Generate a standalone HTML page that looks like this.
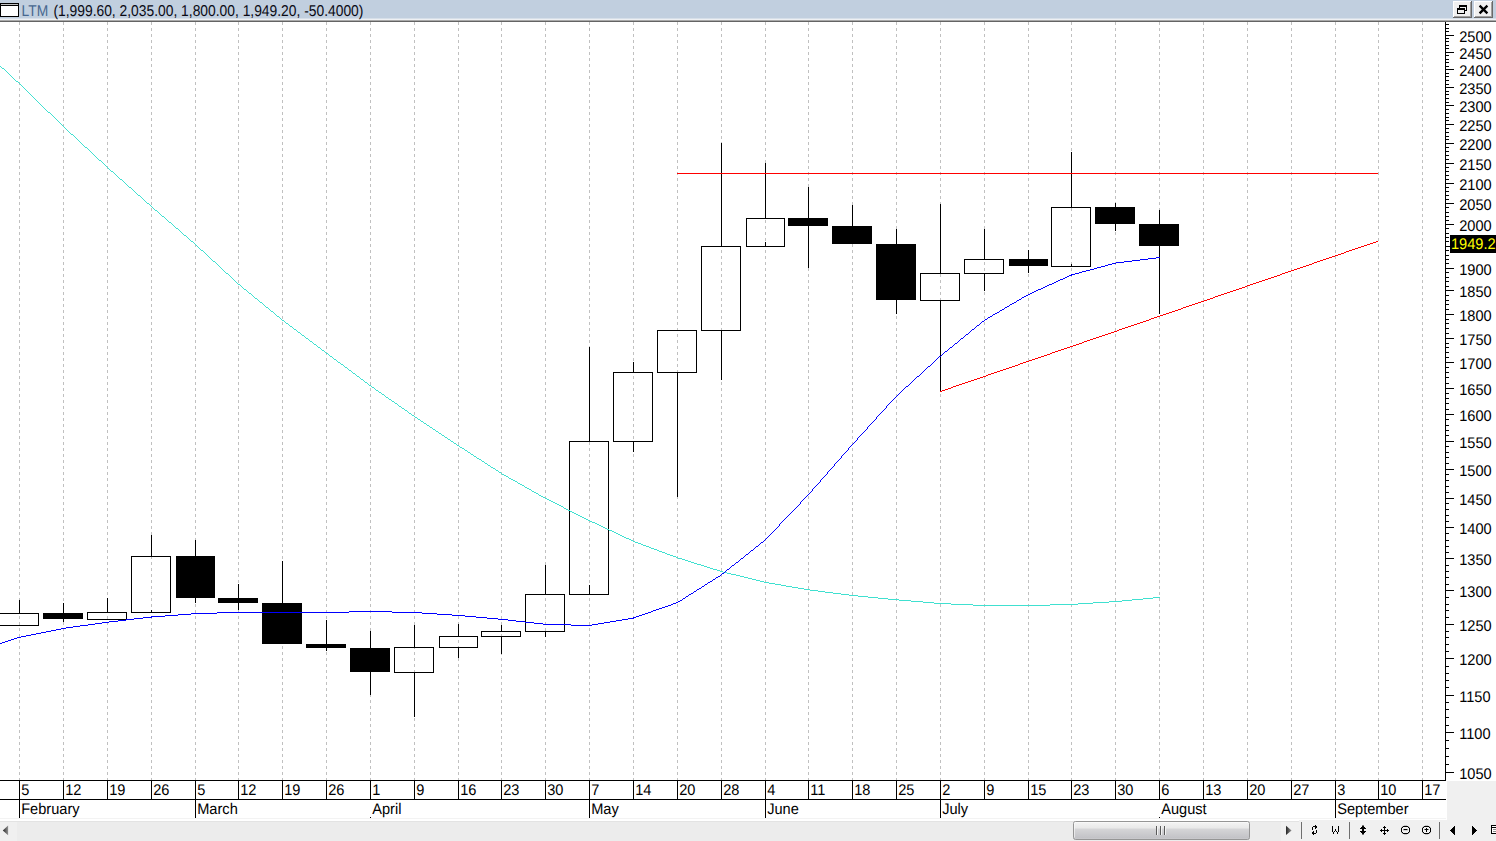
<!DOCTYPE html>
<html><head><meta charset="utf-8"><title>LTM</title>
<style>
html,body{margin:0;padding:0;background:#fff;overflow:hidden}
body{width:1496px;height:841px;position:relative;font-family:"Liberation Sans",sans-serif}
svg{position:absolute;left:0;top:0;display:block}
text{font-family:"Liberation Sans",sans-serif}
</style></head><body>
<svg width="1496" height="841" viewBox="0 0 1496 841">
<rect x="0" y="0" width="1496" height="841" fill="#ffffff"/>
<g shape-rendering="crispEdges">
<rect x="0" y="0" width="1496" height="18" fill="#c1cfdf"/>
<rect x="0" y="18" width="1496" height="1" fill="#d6dfe9"/>
<rect x="0" y="19" width="1496" height="1" fill="#eef0f3"/>
<rect x="0" y="20" width="1496" height="1" fill="#a9a9a9"/>
<rect x="0" y="21" width="1496" height="1" fill="#646464"/>
<rect x="0.5" y="3.5" width="18" height="13" fill="#ffffff" stroke="#000" stroke-width="1"/>
<rect x="1" y="4" width="17" height="1" fill="#c0c0c0"/>
<rect x="1" y="5" width="17" height="1" fill="#000"/>
</g>
<text transform="translate(21.6,15.9) rotate(0.03)" font-size="15.7" fill="#47678f" textLength="26.6" lengthAdjust="spacingAndGlyphs">LTM</text>
<text transform="translate(53.4,15.9) rotate(0.03)" font-size="15.7" fill="#0a0a14" textLength="310" lengthAdjust="spacingAndGlyphs">(1,999.60, 2,035.00, 1,800.00, 1,949.20, -50.4000)</text>
<g shape-rendering="crispEdges">
<rect x="1453" y="1" width="19" height="17" fill="#f0f0f0"/>
<rect x="1453" y="1" width="18" height="1" fill="#ffffff"/>
<rect x="1453" y="1" width="1" height="16" fill="#ffffff"/>
<rect x="1453" y="17" width="19" height="1" fill="#696969"/>
<rect x="1471" y="1" width="1" height="17" fill="#696969"/>
<rect x="1454" y="16" width="17" height="1" fill="#a0a0a0"/>
<rect x="1470" y="2" width="1" height="15" fill="#a0a0a0"/>
</g>
<g shape-rendering="crispEdges">
<rect x="1474" y="1" width="19" height="17" fill="#f0f0f0"/>
<rect x="1474" y="1" width="18" height="1" fill="#ffffff"/>
<rect x="1474" y="1" width="1" height="16" fill="#ffffff"/>
<rect x="1474" y="17" width="19" height="1" fill="#696969"/>
<rect x="1492" y="1" width="1" height="17" fill="#696969"/>
<rect x="1475" y="16" width="17" height="1" fill="#a0a0a0"/>
<rect x="1491" y="2" width="1" height="15" fill="#a0a0a0"/>
</g>
<g shape-rendering="crispEdges" fill="#000">
<rect x="1459" y="5" width="8" height="2"/><rect x="1459" y="5" width="1" height="3"/><rect x="1466" y="5" width="1" height="6"/><rect x="1465" y="10" width="2" height="1"/>
<rect x="1457" y="8" width="8" height="2"/><rect x="1457" y="8" width="1" height="6"/><rect x="1464" y="8" width="1" height="6"/><rect x="1457" y="13" width="8" height="1"/>
</g>
<path d="M1479.6 5.6 L1487.4 13.4 M1487.4 5.6 L1479.6 13.4" stroke="#000" stroke-width="2.3" fill="none"/>
<g shape-rendering="crispEdges" stroke="#c0c0c0" stroke-width="1" stroke-dasharray="3 3">
<line x1="19.5" y1="22" x2="19.5" y2="780"/>
<line x1="63.5" y1="22" x2="63.5" y2="780"/>
<line x1="107.5" y1="22" x2="107.5" y2="780"/>
<line x1="151.5" y1="22" x2="151.5" y2="780"/>
<line x1="195.5" y1="22" x2="195.5" y2="780"/>
<line x1="238.5" y1="22" x2="238.5" y2="780"/>
<line x1="282.5" y1="22" x2="282.5" y2="780"/>
<line x1="326.5" y1="22" x2="326.5" y2="780"/>
<line x1="370.5" y1="22" x2="370.5" y2="780"/>
<line x1="414.5" y1="22" x2="414.5" y2="780"/>
<line x1="458.5" y1="22" x2="458.5" y2="780"/>
<line x1="501.5" y1="22" x2="501.5" y2="780"/>
<line x1="545.5" y1="22" x2="545.5" y2="780"/>
<line x1="589.5" y1="22" x2="589.5" y2="780"/>
<line x1="633.5" y1="22" x2="633.5" y2="780"/>
<line x1="677.5" y1="22" x2="677.5" y2="780"/>
<line x1="721.5" y1="22" x2="721.5" y2="780"/>
<line x1="765.5" y1="22" x2="765.5" y2="780"/>
<line x1="808.5" y1="22" x2="808.5" y2="780"/>
<line x1="852.5" y1="22" x2="852.5" y2="780"/>
<line x1="896.5" y1="22" x2="896.5" y2="780"/>
<line x1="940.5" y1="22" x2="940.5" y2="780"/>
<line x1="984.5" y1="22" x2="984.5" y2="780"/>
<line x1="1028.5" y1="22" x2="1028.5" y2="780"/>
<line x1="1071.5" y1="22" x2="1071.5" y2="780"/>
<line x1="1115.5" y1="22" x2="1115.5" y2="780"/>
<line x1="1159.5" y1="22" x2="1159.5" y2="780"/>
<line x1="1203.5" y1="22" x2="1203.5" y2="780"/>
<line x1="1247.5" y1="22" x2="1247.5" y2="780"/>
<line x1="1291.5" y1="22" x2="1291.5" y2="780"/>
<line x1="1335.5" y1="22" x2="1335.5" y2="780"/>
<line x1="1378.5" y1="22" x2="1378.5" y2="780"/>
<line x1="1422.5" y1="22" x2="1422.5" y2="780"/>
</g>
<g shape-rendering="crispEdges">
<rect x="19" y="600" width="1" height="13" fill="#000"/>
<rect x="-0.5" y="613.5" width="39" height="12" fill="#fff" stroke="#000" stroke-width="1"/>
<rect x="63" y="603" width="1" height="10" fill="#000"/>
<rect x="63" y="619" width="1" height="3" fill="#000"/>
<rect x="43" y="613" width="40" height="6" fill="#000"/>
<rect x="107" y="598" width="1" height="14" fill="#000"/>
<rect x="87.5" y="612.5" width="39" height="7" fill="#fff" stroke="#000" stroke-width="1"/>
<rect x="151" y="535" width="1" height="21" fill="#000"/>
<rect x="131.5" y="556.5" width="39" height="56" fill="#fff" stroke="#000" stroke-width="1"/>
<rect x="151" y="610" width="1" height="3" fill="#000"/>
<rect x="195" y="540" width="1" height="16" fill="#000"/>
<rect x="195" y="598" width="1" height="5" fill="#000"/>
<rect x="176" y="556" width="39" height="42" fill="#000"/>
<rect x="238" y="584" width="1" height="14" fill="#000"/>
<rect x="238" y="603" width="1" height="7" fill="#000"/>
<rect x="218" y="598" width="40" height="5" fill="#000"/>
<rect x="282" y="561" width="1" height="42" fill="#000"/>
<rect x="262" y="603" width="40" height="41" fill="#000"/>
<rect x="326" y="620" width="1" height="24" fill="#000"/>
<rect x="326" y="648" width="1" height="3" fill="#000"/>
<rect x="306" y="644" width="40" height="4" fill="#000"/>
<rect x="370" y="631" width="1" height="17" fill="#000"/>
<rect x="370" y="672" width="1" height="23" fill="#000"/>
<rect x="350" y="648" width="40" height="24" fill="#000"/>
<rect x="414" y="625" width="1" height="22" fill="#000"/>
<rect x="414" y="673" width="1" height="44" fill="#000"/>
<rect x="394.5" y="647.5" width="39" height="25" fill="#fff" stroke="#000" stroke-width="1"/>
<rect x="458" y="624" width="1" height="12" fill="#000"/>
<rect x="458" y="648" width="1" height="10" fill="#000"/>
<rect x="439.5" y="636.5" width="38" height="11" fill="#fff" stroke="#000" stroke-width="1"/>
<rect x="501" y="625" width="1" height="6" fill="#000"/>
<rect x="501" y="637" width="1" height="17" fill="#000"/>
<rect x="481.5" y="631.5" width="39" height="5" fill="#fff" stroke="#000" stroke-width="1"/>
<rect x="545" y="565" width="1" height="29" fill="#000"/>
<rect x="545" y="632" width="1" height="5" fill="#000"/>
<rect x="525.5" y="594.5" width="39" height="37" fill="#fff" stroke="#000" stroke-width="1"/>
<rect x="589" y="347" width="1" height="94" fill="#000"/>
<rect x="569.5" y="441.5" width="39" height="153" fill="#fff" stroke="#000" stroke-width="1"/>
<rect x="589" y="585" width="1" height="10" fill="#000"/>
<rect x="633" y="362" width="1" height="10" fill="#000"/>
<rect x="633" y="442" width="1" height="10" fill="#000"/>
<rect x="613.5" y="372.5" width="39" height="69" fill="#fff" stroke="#000" stroke-width="1"/>
<rect x="677" y="373" width="1" height="124" fill="#000"/>
<rect x="657.5" y="330.5" width="39" height="42" fill="#fff" stroke="#000" stroke-width="1"/>
<rect x="721" y="143" width="1" height="103" fill="#000"/>
<rect x="721" y="331" width="1" height="49" fill="#000"/>
<rect x="701.5" y="246.5" width="39" height="84" fill="#fff" stroke="#000" stroke-width="1"/>
<rect x="765" y="163" width="1" height="55" fill="#000"/>
<rect x="746.5" y="218.5" width="38" height="28" fill="#fff" stroke="#000" stroke-width="1"/>
<rect x="765" y="242" width="1" height="5" fill="#000"/>
<rect x="808" y="187" width="1" height="31" fill="#000"/>
<rect x="808" y="226" width="1" height="42" fill="#000"/>
<rect x="788" y="218" width="40" height="8" fill="#000"/>
<rect x="852" y="205" width="1" height="21" fill="#000"/>
<rect x="832" y="226" width="40" height="18" fill="#000"/>
<rect x="896" y="229" width="1" height="15" fill="#000"/>
<rect x="896" y="300" width="1" height="14" fill="#000"/>
<rect x="876" y="244" width="40" height="56" fill="#000"/>
<rect x="940" y="204" width="1" height="69" fill="#000"/>
<rect x="940" y="301" width="1" height="91" fill="#000"/>
<rect x="920.5" y="273.5" width="39" height="27" fill="#fff" stroke="#000" stroke-width="1"/>
<rect x="984" y="229" width="1" height="30" fill="#000"/>
<rect x="984" y="274" width="1" height="17" fill="#000"/>
<rect x="964.5" y="259.5" width="39" height="14" fill="#fff" stroke="#000" stroke-width="1"/>
<rect x="1028" y="250" width="1" height="9" fill="#000"/>
<rect x="1028" y="266" width="1" height="7" fill="#000"/>
<rect x="1009" y="259" width="39" height="7" fill="#000"/>
<rect x="1071" y="152" width="1" height="55" fill="#000"/>
<rect x="1051.5" y="207.5" width="39" height="59" fill="#fff" stroke="#000" stroke-width="1"/>
<rect x="1071" y="264" width="1" height="3" fill="#000"/>
<rect x="1115" y="203" width="1" height="4" fill="#000"/>
<rect x="1115" y="224" width="1" height="7" fill="#000"/>
<rect x="1095" y="207" width="40" height="17" fill="#000"/>
<rect x="1159" y="210" width="1" height="14" fill="#000"/>
<rect x="1159" y="246" width="1" height="68" fill="#000"/>
<rect x="1139" y="224" width="40" height="22" fill="#000"/>
</g>
<g shape-rendering="crispEdges" stroke="#c0c0c0" stroke-width="1" stroke-dasharray="3 3">
<line x1="19.5" y1="614" x2="19.5" y2="625" stroke-dashoffset="4"/>
<line x1="107.5" y1="613" x2="107.5" y2="619" stroke-dashoffset="3"/>
<line x1="151.5" y1="557" x2="151.5" y2="610" stroke-dashoffset="1"/>
<line x1="414.5" y1="648" x2="414.5" y2="672" stroke-dashoffset="2"/>
<line x1="458.5" y1="637" x2="458.5" y2="647" stroke-dashoffset="3"/>
<line x1="501.5" y1="632" x2="501.5" y2="636" stroke-dashoffset="4"/>
<line x1="545.5" y1="595" x2="545.5" y2="631" stroke-dashoffset="3"/>
<line x1="589.5" y1="442" x2="589.5" y2="585" stroke-dashoffset="0"/>
<line x1="633.5" y1="373" x2="633.5" y2="441" stroke-dashoffset="3"/>
<line x1="677.5" y1="331" x2="677.5" y2="372" stroke-dashoffset="3"/>
<line x1="721.5" y1="247" x2="721.5" y2="330" stroke-dashoffset="3"/>
<line x1="765.5" y1="219" x2="765.5" y2="242" stroke-dashoffset="5"/>
<line x1="940.5" y1="274" x2="940.5" y2="300" stroke-dashoffset="0"/>
<line x1="984.5" y1="260" x2="984.5" y2="273" stroke-dashoffset="4"/>
<line x1="1071.5" y1="208" x2="1071.5" y2="264" stroke-dashoffset="0"/>
</g>
<path d="M0 66h1v1h-1zM1 67h1v1h-1zM2 68h2v1h-2zM4 69h1v1h-1zM5 70h1v1h-1zM6 71h1v1h-1zM7 72h1v1h-1zM8 73h1v1h-1zM9 74h1v1h-1zM10 75h1v1h-1zM11 76h1v1h-1zM12 77h1v1h-1zM13 78h1v1h-1zM14 79h1v1h-1zM15 80h1v1h-1zM16 81h2v1h-2zM18 82h1v1h-1zM19 83h1v1h-1zM20 84h1v1h-1zM21 85h1v1h-1zM22 86h1v1h-1zM23 87h1v1h-1zM24 88h1v1h-1zM25 89h1v1h-1zM26 90h1v1h-1zM27 91h1v1h-1zM28 92h1v1h-1zM29 93h1v1h-1zM30 94h1v1h-1zM31 95h1v1h-1zM32 96h1v1h-1zM33 97h1v1h-1zM34 98h1v1h-1zM35 99h1v1h-1zM36 100h1v1h-1zM37 101h1v1h-1zM38 102h1v1h-1zM39 103h1v1h-1zM40 104h1v1h-1zM41 105h1v1h-1zM42 106h1v1h-1zM43 107h1v1h-1zM44 108h1v1h-1zM45 109h1v1h-1zM46 110h1v1h-1zM47 111h1v1h-1zM48 112h2v1h-2zM50 113h1v1h-1zM51 114h1v1h-1zM52 115h1v1h-1zM53 116h1v1h-1zM54 117h1v1h-1zM55 118h1v1h-1zM56 119h1v1h-1zM57 120h1v1h-1zM58 121h1v1h-1zM59 122h1v1h-1zM60 123h1v1h-1zM61 124h1v1h-1zM62 125h1v1h-1zM63 126h1v1h-1zM64 127h1v1h-1zM65 128h1v1h-1zM66 129h1v1h-1zM67 130h1v1h-1zM68 131h1v1h-1zM69 132h1v1h-1zM70 133h1v1h-1zM71 134h2v1h-2zM73 135h1v1h-1zM74 136h1v1h-1zM75 137h1v1h-1zM76 138h1v1h-1zM77 139h1v1h-1zM78 140h1v1h-1zM79 141h1v1h-1zM80 142h1v1h-1zM81 143h1v1h-1zM82 144h1v1h-1zM83 145h1v1h-1zM84 146h1v1h-1zM85 147h2v1h-2zM87 148h1v1h-1zM88 149h1v1h-1zM89 150h1v1h-1zM90 151h1v1h-1zM91 152h1v1h-1zM92 153h1v1h-1zM93 154h1v1h-1zM94 155h1v1h-1zM95 156h1v1h-1zM96 157h1v1h-1zM97 158h1v1h-1zM98 159h1v1h-1zM99 160h2v1h-2zM101 161h1v1h-1zM102 162h1v1h-1zM103 163h1v1h-1zM104 164h1v1h-1zM105 165h1v1h-1zM106 166h1v1h-1zM107 167h1v1h-1zM108 168h1v1h-1zM109 169h1v1h-1zM110 170h1v1h-1zM111 171h2v1h-2zM113 172h1v1h-1zM114 173h1v1h-1zM115 174h1v1h-1zM116 175h1v1h-1zM117 176h1v1h-1zM118 177h1v1h-1zM119 178h1v1h-1zM120 179h2v1h-2zM122 180h1v1h-1zM123 181h1v1h-1zM124 182h1v1h-1zM125 183h1v1h-1zM126 184h1v1h-1zM127 185h1v1h-1zM128 186h1v1h-1zM129 187h2v1h-2zM131 188h1v1h-1zM132 189h1v1h-1zM133 190h1v1h-1zM134 191h1v1h-1zM135 192h1v1h-1zM136 193h1v1h-1zM137 194h1v1h-1zM138 195h2v1h-2zM140 196h1v1h-1zM141 197h1v1h-1zM142 198h1v1h-1zM143 199h1v1h-1zM144 200h1v1h-1zM145 201h1v1h-1zM146 202h1v1h-1zM147 203h2v1h-2zM149 204h1v1h-1zM150 205h1v1h-1zM151 206h1v1h-1zM152 207h1v1h-1zM153 208h1v1h-1zM154 209h1v1h-1zM155 210h2v1h-2zM157 211h1v1h-1zM158 212h1v1h-1zM159 213h1v1h-1zM160 214h1v1h-1zM161 215h1v1h-1zM162 216h2v1h-2zM164 217h1v1h-1zM165 218h1v1h-1zM166 219h1v1h-1zM167 220h1v1h-1zM168 221h1v1h-1zM169 222h2v1h-2zM171 223h1v1h-1zM172 224h1v1h-1zM173 225h1v1h-1zM174 226h1v1h-1zM175 227h1v1h-1zM176 228h2v1h-2zM178 229h1v1h-1zM179 230h1v1h-1zM180 231h1v1h-1zM181 232h1v1h-1zM182 233h1v1h-1zM183 234h1v1h-1zM184 235h2v1h-2zM186 236h1v1h-1zM187 237h1v1h-1zM188 238h1v1h-1zM189 239h1v1h-1zM190 240h1v1h-1zM191 241h2v1h-2zM193 242h1v1h-1zM194 243h1v1h-1zM195 244h1v1h-1zM196 245h1v1h-1zM197 246h1v1h-1zM198 247h1v1h-1zM199 248h1v1h-1zM200 249h1v1h-1zM201 250h2v1h-2zM203 251h1v1h-1zM204 252h1v1h-1zM205 253h1v1h-1zM206 254h1v1h-1zM207 255h1v1h-1zM208 256h1v1h-1zM209 257h1v1h-1zM210 258h1v1h-1zM211 259h1v1h-1zM212 260h1v1h-1zM213 261h2v1h-2zM215 262h1v1h-1zM216 263h1v1h-1zM217 264h1v1h-1zM218 265h1v1h-1zM219 266h1v1h-1zM220 267h1v1h-1zM221 268h1v1h-1zM222 269h1v1h-1zM223 270h1v1h-1zM224 271h1v1h-1zM225 272h1v1h-1zM226 273h2v1h-2zM228 274h1v1h-1zM229 275h1v1h-1zM230 276h1v1h-1zM231 277h1v1h-1zM232 278h1v1h-1zM233 279h1v1h-1zM234 280h1v1h-1zM235 281h1v1h-1zM236 282h1v1h-1zM237 283h1v1h-1zM238 284h2v1h-2zM240 285h1v1h-1zM241 286h1v1h-1zM242 287h1v1h-1zM243 288h1v1h-1zM244 289h2v1h-2zM246 290h1v1h-1zM247 291h1v1h-1zM248 292h1v1h-1zM249 293h2v1h-2zM251 294h1v1h-1zM252 295h1v1h-1zM253 296h1v1h-1zM254 297h1v1h-1zM255 298h2v1h-2zM257 299h1v1h-1zM258 300h1v1h-1zM259 301h1v1h-1zM260 302h2v1h-2zM262 303h1v1h-1zM263 304h1v1h-1zM264 305h1v1h-1zM265 306h1v1h-1zM266 307h2v1h-2zM268 308h1v1h-1zM269 309h1v1h-1zM270 310h1v1h-1zM271 311h2v1h-2zM273 312h1v1h-1zM274 313h1v1h-1zM275 314h1v1h-1zM276 315h1v1h-1zM277 316h2v1h-2zM279 317h1v1h-1zM280 318h1v1h-1zM281 319h1v1h-1zM282 320h2v1h-2zM284 321h1v1h-1zM285 322h1v1h-1zM286 323h2v1h-2zM288 324h1v1h-1zM289 325h1v1h-1zM290 326h2v1h-2zM292 327h1v1h-1zM293 328h1v1h-1zM294 329h2v1h-2zM296 330h1v1h-1zM297 331h1v1h-1zM298 332h2v1h-2zM300 333h1v1h-1zM301 334h1v1h-1zM302 335h2v1h-2zM304 336h1v1h-1zM305 337h1v1h-1zM306 338h2v1h-2zM308 339h1v1h-1zM309 340h1v1h-1zM310 341h2v1h-2zM312 342h1v1h-1zM313 343h1v1h-1zM314 344h2v1h-2zM316 345h1v1h-1zM317 346h1v1h-1zM318 347h2v1h-2zM320 348h1v1h-1zM321 349h1v1h-1zM322 350h2v1h-2zM324 351h1v1h-1zM325 352h1v1h-1zM326 353h2v1h-2zM328 354h1v1h-1zM329 355h1v1h-1zM330 356h2v1h-2zM332 357h1v1h-1zM333 358h1v1h-1zM334 359h2v1h-2zM336 360h1v1h-1zM337 361h1v1h-1zM338 362h2v1h-2zM340 363h1v1h-1zM341 364h2v1h-2zM343 365h1v1h-1zM344 366h1v1h-1zM345 367h2v1h-2zM347 368h1v1h-1zM348 369h1v1h-1zM349 370h2v1h-2zM351 371h1v1h-1zM352 372h1v1h-1zM353 373h2v1h-2zM355 374h1v1h-1zM356 375h1v1h-1zM357 376h2v1h-2zM359 377h1v1h-1zM360 378h1v1h-1zM361 379h2v1h-2zM363 380h1v1h-1zM364 381h1v1h-1zM365 382h2v1h-2zM367 383h1v1h-1zM368 384h1v1h-1zM369 385h2v1h-2zM371 386h1v1h-1zM372 387h2v1h-2zM374 388h1v1h-1zM375 389h1v1h-1zM376 390h2v1h-2zM378 391h1v1h-1zM379 392h2v1h-2zM381 393h1v1h-1zM382 394h2v1h-2zM384 395h1v1h-1zM385 396h1v1h-1zM386 397h2v1h-2zM388 398h1v1h-1zM389 399h2v1h-2zM391 400h1v1h-1zM392 401h2v1h-2zM394 402h1v1h-1zM395 403h2v1h-2zM397 404h1v1h-1zM398 405h1v1h-1zM399 406h2v1h-2zM401 407h1v1h-1zM402 408h2v1h-2zM404 409h1v1h-1zM405 410h2v1h-2zM407 411h1v1h-1zM408 412h1v1h-1zM409 413h2v1h-2zM411 414h1v1h-1zM412 415h2v1h-2zM414 416h1v1h-1zM415 417h2v1h-2zM417 418h1v1h-1zM418 419h2v1h-2zM420 420h1v1h-1zM421 421h2v1h-2zM423 422h1v1h-1zM424 423h2v1h-2zM426 424h1v1h-1zM427 425h2v1h-2zM429 426h1v1h-1zM430 427h2v1h-2zM432 428h1v1h-1zM433 429h2v1h-2zM435 430h1v1h-1zM436 431h2v1h-2zM438 432h1v1h-1zM439 433h2v1h-2zM441 434h1v1h-1zM442 435h2v1h-2zM444 436h1v1h-1zM445 437h2v1h-2zM447 438h1v1h-1zM448 439h2v1h-2zM450 440h1v1h-1zM451 441h2v1h-2zM453 442h1v1h-1zM454 443h2v1h-2zM456 444h1v1h-1zM457 445h2v1h-2zM459 446h1v1h-1zM460 447h2v1h-2zM462 448h2v1h-2zM464 449h1v1h-1zM465 450h2v1h-2zM467 451h1v1h-1zM468 452h2v1h-2zM470 453h1v1h-1zM471 454h2v1h-2zM473 455h1v1h-1zM474 456h2v1h-2zM476 457h1v1h-1zM477 458h2v1h-2zM479 459h2v1h-2zM481 460h1v1h-1zM482 461h2v1h-2zM484 462h1v1h-1zM485 463h2v1h-2zM487 464h1v1h-1zM488 465h2v1h-2zM490 466h1v1h-1zM491 467h2v1h-2zM493 468h2v1h-2zM495 469h1v1h-1zM496 470h2v1h-2zM498 471h1v1h-1zM499 472h2v1h-2zM501 473h1v1h-1zM502 474h2v1h-2zM504 475h2v1h-2zM506 476h2v1h-2zM508 477h1v1h-1zM509 478h2v1h-2zM511 479h2v1h-2zM513 480h2v1h-2zM515 481h2v1h-2zM517 482h1v1h-1zM518 483h2v1h-2zM520 484h2v1h-2zM522 485h2v1h-2zM524 486h1v1h-1zM525 487h2v1h-2zM527 488h2v1h-2zM529 489h2v1h-2zM531 490h1v1h-1zM532 491h2v1h-2zM534 492h2v1h-2zM536 493h2v1h-2zM538 494h1v1h-1zM539 495h2v1h-2zM541 496h2v1h-2zM543 497h2v1h-2zM545 498h2v1h-2zM547 499h2v1h-2zM549 500h2v1h-2zM551 501h2v1h-2zM553 502h2v1h-2zM555 503h2v1h-2zM557 504h2v1h-2zM559 505h2v1h-2zM561 506h2v1h-2zM563 507h1v1h-1zM564 508h2v1h-2zM566 509h2v1h-2zM568 510h2v1h-2zM570 511h2v1h-2zM572 512h2v1h-2zM574 513h2v1h-2zM576 514h2v1h-2zM578 515h2v1h-2zM580 516h2v1h-2zM582 517h2v1h-2zM584 518h2v1h-2zM586 519h2v1h-2zM588 520h2v1h-2zM590 521h2v1h-2zM592 522h3v1h-3zM595 523h2v1h-2zM597 524h2v1h-2zM599 525h2v1h-2zM601 526h2v1h-2zM603 527h2v1h-2zM605 528h2v1h-2zM607 529h2v1h-2zM609 530h3v1h-3zM612 531h2v1h-2zM614 532h2v1h-2zM616 533h2v1h-2zM618 534h2v1h-2zM620 535h2v1h-2zM622 536h2v1h-2zM624 537h2v1h-2zM626 538h3v1h-3zM629 539h2v1h-2zM631 540h2v1h-2zM633 541h2v1h-2zM635 542h3v1h-3zM638 543h3v1h-3zM641 544h2v1h-2zM643 545h3v1h-3zM646 546h3v1h-3zM649 547h2v1h-2zM651 548h3v1h-3zM654 549h3v1h-3zM657 550h2v1h-2zM659 551h3v1h-3zM662 552h3v1h-3zM665 553h2v1h-2zM667 554h3v1h-3zM670 555h3v1h-3zM673 556h3v1h-3zM676 557h2v1h-2zM678 558h4v1h-4zM682 559h3v1h-3zM685 560h3v1h-3zM688 561h3v1h-3zM691 562h3v1h-3zM694 563h3v1h-3zM697 564h4v1h-4zM701 565h3v1h-3zM704 566h3v1h-3zM707 567h3v1h-3zM710 568h3v1h-3zM713 569h4v1h-4zM717 570h3v1h-3zM720 571h3v1h-3zM723 572h4v1h-4zM727 573h4v1h-4zM731 574h5v1h-5zM736 575h4v1h-4zM740 576h4v1h-4zM744 577h4v1h-4zM748 578h4v1h-4zM752 579h4v1h-4zM756 580h4v1h-4zM760 581h4v1h-4zM764 582h5v1h-5zM769 583h6v1h-6zM775 584h6v1h-6zM781 585h5v1h-5zM786 586h6v1h-6zM792 587h6v1h-6zM798 588h6v1h-6zM804 589h6v1h-6zM810 590h8v1h-8zM818 591h7v1h-7zM825 592h8v1h-8zM833 593h8v1h-8zM841 594h8v1h-8zM849 595h9v1h-9zM858 596h10v1h-10zM868 597h10v1h-10zM1153 597h7v1h-7zM878 598h10v1h-10zM1143 598h10v1h-10zM888 599h11v1h-11zM1132 599h11v1h-11zM899 600h12v1h-12zM1122 600h10v1h-10zM911 601h12v1h-12zM1109 601h13v1h-13zM923 602h11v1h-11zM1093 602h16v1h-16zM934 603h17v1h-17zM1078 603h15v1h-15zM951 604h22v1h-22zM1050 604h28v1h-28zM973 605h77v1h-77z" fill="#40e0d0" shape-rendering="crispEdges"/>
<path d="M1156 257h4v1h-4zM1148 258h8v1h-8zM1140 259h8v1h-8zM1132 260h8v1h-8zM1124 261h8v1h-8zM1116 262h8v1h-8zM1112 263h4v1h-4zM1108 264h4v1h-4zM1105 265h3v1h-3zM1101 266h4v1h-4zM1097 267h4v1h-4zM1094 268h3v1h-3zM1090 269h4v1h-4zM1086 270h4v1h-4zM1082 271h4v1h-4zM1079 272h3v1h-3zM1075 273h4v1h-4zM1071 274h4v1h-4zM1069 275h3v1h-3zM1067 276h2v1h-2zM1065 277h2v1h-2zM1063 278h2v1h-2zM1060 279h3v1h-3zM1058 280h2v1h-2zM1056 281h2v1h-2zM1054 282h2v1h-2zM1052 283h2v1h-2zM1049 284h3v1h-3zM1047 285h2v1h-2zM1045 286h2v1h-2zM1043 287h2v1h-2zM1041 288h2v1h-2zM1038 289h3v1h-3zM1036 290h2v1h-2zM1034 291h2v1h-2zM1032 292h2v1h-2zM1030 293h2v1h-2zM1028 294h2v1h-2zM1026 295h2v1h-2zM1024 296h2v1h-2zM1022 297h2v1h-2zM1021 298h1v1h-1zM1019 299h2v1h-2zM1017 300h2v1h-2zM1016 301h1v1h-1zM1014 302h2v1h-2zM1012 303h2v1h-2zM1010 304h2v1h-2zM1009 305h1v1h-1zM1007 306h2v1h-2zM1005 307h2v1h-2zM1004 308h1v1h-1zM1002 309h2v1h-2zM1000 310h2v1h-2zM999 311h1v1h-1zM997 312h2v1h-2zM995 313h2v1h-2zM993 314h2v1h-2zM992 315h1v1h-1zM990 316h2v1h-2zM988 317h2v1h-2zM987 318h1v1h-1zM985 319h2v1h-2zM984 320h1v1h-1zM982 321h2v1h-2zM981 322h1v1h-1zM980 323h1v1h-1zM979 324h1v1h-1zM977 325h2v1h-2zM976 326h1v1h-1zM975 327h1v1h-1zM974 328h1v1h-1zM972 329h2v1h-2zM971 330h1v1h-1zM970 331h1v1h-1zM969 332h1v1h-1zM968 333h1v1h-1zM966 334h2v1h-2zM965 335h1v1h-1zM964 336h1v1h-1zM963 337h1v1h-1zM961 338h2v1h-2zM960 339h1v1h-1zM959 340h1v1h-1zM958 341h1v1h-1zM957 342h1v1h-1zM955 343h2v1h-2zM954 344h1v1h-1zM953 345h1v1h-1zM952 346h1v1h-1zM950 347h2v1h-2zM949 348h1v1h-1zM948 349h1v1h-1zM947 350h1v1h-1zM945 351h2v1h-2zM944 352h1v1h-1zM943 353h1v1h-1zM942 354h1v1h-1zM941 355h1v1h-1zM939 356h2v1h-2zM938 357h1v1h-1zM937 358h1v1h-1zM936 359h1v1h-1zM935 360h1v1h-1zM934 361h1v1h-1zM933 362h1v1h-1zM932 363h1v1h-1zM931 364h1v1h-1zM930 365h1v1h-1zM928 366h2v1h-2zM927 367h1v1h-1zM926 368h1v1h-1zM925 369h1v1h-1zM924 370h1v1h-1zM923 371h1v1h-1zM922 372h1v1h-1zM921 373h1v1h-1zM920 374h1v1h-1zM919 375h1v1h-1zM917 376h2v1h-2zM916 377h1v1h-1zM915 378h1v1h-1zM914 379h1v1h-1zM913 380h1v1h-1zM912 381h1v1h-1zM911 382h1v1h-1zM910 383h1v1h-1zM909 384h1v1h-1zM908 385h1v1h-1zM906 386h2v1h-2zM905 387h1v1h-1zM904 388h1v1h-1zM903 389h1v1h-1zM902 390h1v1h-1zM901 391h1v1h-1zM900 392h1v1h-1zM899 393h1v1h-1zM898 394h1v1h-1zM897 395h1v1h-1zM896 396h1v1h-1zM895 397h1v1h-1zM894 398h1v1h-1zM893 399h1v1h-1zM892 400h1v1h-1zM891 401h1v1h-1zM890 402h1v1h-1zM889 403h1v1h-1zM888 404h1v1h-1zM887 405h1v1h-1zM886 406h1v1h-1zM886 407h1v1h-1zM885 408h1v1h-1zM884 409h1v1h-1zM883 410h1v1h-1zM882 411h1v1h-1zM881 412h1v1h-1zM880 413h1v1h-1zM879 414h1v1h-1zM878 415h1v1h-1zM877 416h1v1h-1zM876 417h1v1h-1zM876 418h1v1h-1zM875 419h1v1h-1zM874 420h1v1h-1zM873 421h1v1h-1zM872 422h1v1h-1zM871 423h1v1h-1zM870 424h1v1h-1zM869 425h1v1h-1zM868 426h1v1h-1zM867 427h1v1h-1zM867 428h1v1h-1zM866 429h1v1h-1zM865 430h1v1h-1zM864 431h1v1h-1zM863 432h1v1h-1zM862 433h1v1h-1zM861 434h1v1h-1zM860 435h1v1h-1zM859 436h1v1h-1zM858 437h1v1h-1zM857 438h1v1h-1zM857 439h1v1h-1zM856 440h1v1h-1zM855 441h1v1h-1zM854 442h1v1h-1zM853 443h1v1h-1zM852 444h1v1h-1zM851 445h1v1h-1zM850 446h1v1h-1zM849 447h1v1h-1zM848 448h1v1h-1zM848 449h1v1h-1zM847 450h1v1h-1zM846 451h1v1h-1zM845 452h1v1h-1zM844 453h1v1h-1zM843 454h1v1h-1zM842 455h1v1h-1zM841 456h1v1h-1zM841 457h1v1h-1zM840 458h1v1h-1zM839 459h1v1h-1zM838 460h1v1h-1zM837 461h1v1h-1zM836 462h1v1h-1zM835 463h1v1h-1zM834 464h1v1h-1zM834 465h1v1h-1zM833 466h1v1h-1zM832 467h1v1h-1zM831 468h1v1h-1zM830 469h1v1h-1zM829 470h1v1h-1zM828 471h1v1h-1zM827 472h1v1h-1zM827 473h1v1h-1zM826 474h1v1h-1zM825 475h1v1h-1zM824 476h1v1h-1zM823 477h1v1h-1zM822 478h1v1h-1zM821 479h1v1h-1zM820 480h1v1h-1zM820 481h1v1h-1zM819 482h1v1h-1zM818 483h1v1h-1zM817 484h1v1h-1zM816 485h1v1h-1zM815 486h1v1h-1zM814 487h1v1h-1zM813 488h1v1h-1zM812 489h1v1h-1zM812 490h1v1h-1zM811 491h1v1h-1zM810 492h1v1h-1zM809 493h1v1h-1zM808 494h1v1h-1zM807 495h1v1h-1zM806 496h1v1h-1zM805 497h1v1h-1zM804 498h1v1h-1zM803 499h1v1h-1zM802 500h1v1h-1zM801 501h1v1h-1zM800 502h1v1h-1zM800 503h1v1h-1zM799 504h1v1h-1zM798 505h1v1h-1zM797 506h1v1h-1zM796 507h1v1h-1zM795 508h1v1h-1zM794 509h1v1h-1zM793 510h1v1h-1zM792 511h1v1h-1zM791 512h1v1h-1zM790 513h1v1h-1zM789 514h1v1h-1zM788 515h1v1h-1zM787 516h1v1h-1zM786 517h1v1h-1zM785 518h1v1h-1zM784 519h1v1h-1zM783 520h1v1h-1zM782 521h1v1h-1zM781 522h1v1h-1zM780 523h1v1h-1zM779 524h1v1h-1zM779 525h1v1h-1zM778 526h1v1h-1zM777 527h1v1h-1zM776 528h1v1h-1zM775 529h1v1h-1zM774 530h1v1h-1zM773 531h1v1h-1zM772 532h1v1h-1zM771 533h1v1h-1zM770 534h1v1h-1zM769 535h1v1h-1zM768 536h1v1h-1zM767 537h1v1h-1zM766 538h1v1h-1zM765 539h1v1h-1zM764 540h1v1h-1zM763 541h1v1h-1zM761 542h2v1h-2zM760 543h1v1h-1zM759 544h1v1h-1zM758 545h1v1h-1zM756 546h2v1h-2zM755 547h1v1h-1zM754 548h1v1h-1zM753 549h1v1h-1zM751 550h2v1h-2zM750 551h1v1h-1zM749 552h1v1h-1zM748 553h1v1h-1zM746 554h2v1h-2zM745 555h1v1h-1zM744 556h1v1h-1zM743 557h1v1h-1zM741 558h2v1h-2zM740 559h1v1h-1zM739 560h1v1h-1zM738 561h1v1h-1zM736 562h2v1h-2zM735 563h1v1h-1zM734 564h1v1h-1zM732 565h2v1h-2zM731 566h1v1h-1zM730 567h1v1h-1zM729 568h1v1h-1zM727 569h2v1h-2zM726 570h1v1h-1zM725 571h1v1h-1zM724 572h1v1h-1zM722 573h2v1h-2zM721 574h1v1h-1zM720 575h1v1h-1zM718 576h2v1h-2zM716 577h2v1h-2zM715 578h1v1h-1zM713 579h2v1h-2zM712 580h1v1h-1zM710 581h2v1h-2zM708 582h2v1h-2zM707 583h1v1h-1zM705 584h2v1h-2zM704 585h1v1h-1zM702 586h2v1h-2zM701 587h1v1h-1zM699 588h2v1h-2zM697 589h2v1h-2zM696 590h1v1h-1zM694 591h2v1h-2zM693 592h1v1h-1zM691 593h2v1h-2zM689 594h2v1h-2zM688 595h1v1h-1zM686 596h2v1h-2zM685 597h1v1h-1zM683 598h2v1h-2zM682 599h1v1h-1zM680 600h2v1h-2zM678 601h2v1h-2zM676 602h2v1h-2zM673 603h3v1h-3zM671 604h2v1h-2zM668 605h3v1h-3zM665 606h3v1h-3zM662 607h3v1h-3zM659 608h3v1h-3zM656 609h3v1h-3zM653 610h3v1h-3zM349 611h43v1h-43zM651 611h2v1h-2zM217 612h132v1h-132zM392 612h30v1h-30zM648 612h3v1h-3zM191 613h26v1h-26zM422 613h15v1h-15zM645 613h3v1h-3zM178 614h13v1h-13zM437 614h15v1h-15zM642 614h3v1h-3zM165 615h13v1h-13zM452 615h13v1h-13zM639 615h3v1h-3zM151 616h14v1h-14zM465 616h11v1h-11zM636 616h3v1h-3zM143 617h9v1h-9zM476 617h11v1h-11zM633 617h3v1h-3zM134 618h9v1h-9zM487 618h11v1h-11zM628 618h6v1h-6zM126 619h8v1h-8zM498 619h10v1h-10zM622 619h6v1h-6zM118 620h8v1h-8zM508 620h8v1h-8zM616 620h6v1h-6zM109 621h9v1h-9zM516 621h9v1h-9zM610 621h6v1h-6zM102 622h7v1h-7zM525 622h9v1h-9zM604 622h6v1h-6zM95 623h7v1h-7zM534 623h9v1h-9zM598 623h6v1h-6zM88 624h7v1h-7zM543 624h28v1h-28zM592 624h6v1h-6zM80 625h8v1h-8zM571 625h21v1h-21zM73 626h7v1h-7zM66 627h7v1h-7zM61 628h5v1h-5zM56 629h5v1h-5zM51 630h5v1h-5zM46 631h5v1h-5zM41 632h5v1h-5zM36 633h5v1h-5zM31 634h5v1h-5zM26 635h5v1h-5zM21 636h5v1h-5zM17 637h4v1h-4zM14 638h3v1h-3zM11 639h3v1h-3zM8 640h3v1h-3zM5 641h3v1h-3zM2 642h3v1h-3zM0 643h2v1h-2z" fill="#0000ff" shape-rendering="crispEdges"/>
<g shape-rendering="crispEdges">
<rect x="677" y="173" width="701" height="1" fill="#ff0000"/>
</g>
<path d="M1376 241h2v1h-2zM1373 242h3v1h-3zM1370 243h3v1h-3zM1367 244h3v1h-3zM1364 245h3v1h-3zM1361 246h3v1h-3zM1358 247h3v1h-3zM1355 248h3v1h-3zM1352 249h3v1h-3zM1349 250h3v1h-3zM1346 251h3v1h-3zM1344 252h2v1h-2zM1341 253h3v1h-3zM1338 254h3v1h-3zM1335 255h3v1h-3zM1332 256h3v1h-3zM1329 257h3v1h-3zM1326 258h3v1h-3zM1323 259h3v1h-3zM1320 260h3v1h-3zM1317 261h3v1h-3zM1314 262h3v1h-3zM1312 263h2v1h-2zM1309 264h3v1h-3zM1306 265h3v1h-3zM1303 266h3v1h-3zM1300 267h3v1h-3zM1297 268h3v1h-3zM1294 269h3v1h-3zM1291 270h3v1h-3zM1288 271h3v1h-3zM1285 272h3v1h-3zM1282 273h3v1h-3zM1280 274h2v1h-2zM1277 275h3v1h-3zM1274 276h3v1h-3zM1271 277h3v1h-3zM1268 278h3v1h-3zM1265 279h3v1h-3zM1262 280h3v1h-3zM1259 281h3v1h-3zM1256 282h3v1h-3zM1253 283h3v1h-3zM1250 284h3v1h-3zM1247 285h3v1h-3zM1245 286h2v1h-2zM1242 287h3v1h-3zM1239 288h3v1h-3zM1236 289h3v1h-3zM1233 290h3v1h-3zM1230 291h3v1h-3zM1227 292h3v1h-3zM1224 293h3v1h-3zM1221 294h3v1h-3zM1218 295h3v1h-3zM1215 296h3v1h-3zM1213 297h2v1h-2zM1210 298h3v1h-3zM1207 299h3v1h-3zM1204 300h3v1h-3zM1201 301h3v1h-3zM1198 302h3v1h-3zM1195 303h3v1h-3zM1192 304h3v1h-3zM1189 305h3v1h-3zM1186 306h3v1h-3zM1183 307h3v1h-3zM1181 308h2v1h-2zM1178 309h3v1h-3zM1175 310h3v1h-3zM1172 311h3v1h-3zM1169 312h3v1h-3zM1166 313h3v1h-3zM1163 314h3v1h-3zM1160 315h3v1h-3zM1157 316h3v1h-3zM1154 317h3v1h-3zM1151 318h3v1h-3zM1149 319h2v1h-2zM1146 320h3v1h-3zM1143 321h3v1h-3zM1140 322h3v1h-3zM1137 323h3v1h-3zM1134 324h3v1h-3zM1131 325h3v1h-3zM1128 326h3v1h-3zM1125 327h3v1h-3zM1122 328h3v1h-3zM1119 329h3v1h-3zM1117 330h2v1h-2zM1114 331h3v1h-3zM1111 332h3v1h-3zM1108 333h3v1h-3zM1105 334h3v1h-3zM1102 335h3v1h-3zM1099 336h3v1h-3zM1096 337h3v1h-3zM1093 338h3v1h-3zM1090 339h3v1h-3zM1087 340h3v1h-3zM1084 341h3v1h-3zM1082 342h2v1h-2zM1079 343h3v1h-3zM1076 344h3v1h-3zM1073 345h3v1h-3zM1070 346h3v1h-3zM1067 347h3v1h-3zM1064 348h3v1h-3zM1061 349h3v1h-3zM1058 350h3v1h-3zM1055 351h3v1h-3zM1052 352h3v1h-3zM1050 353h2v1h-2zM1047 354h3v1h-3zM1044 355h3v1h-3zM1041 356h3v1h-3zM1038 357h3v1h-3zM1035 358h3v1h-3zM1032 359h3v1h-3zM1029 360h3v1h-3zM1026 361h3v1h-3zM1023 362h3v1h-3zM1020 363h3v1h-3zM1018 364h2v1h-2zM1015 365h3v1h-3zM1012 366h3v1h-3zM1009 367h3v1h-3zM1006 368h3v1h-3zM1003 369h3v1h-3zM1000 370h3v1h-3zM997 371h3v1h-3zM994 372h3v1h-3zM991 373h3v1h-3zM988 374h3v1h-3zM986 375h2v1h-2zM983 376h3v1h-3zM980 377h3v1h-3zM977 378h3v1h-3zM974 379h3v1h-3zM971 380h3v1h-3zM968 381h3v1h-3zM965 382h3v1h-3zM962 383h3v1h-3zM959 384h3v1h-3zM956 385h3v1h-3zM953 386h3v1h-3zM951 387h2v1h-2zM948 388h3v1h-3zM945 389h3v1h-3zM942 390h3v1h-3zM940 391h2v1h-2z" fill="#ff0000" shape-rendering="crispEdges"/>
<g shape-rendering="crispEdges">
<rect x="1447" y="781" width="49" height="60" fill="#f0f0f0"/>
<rect x="0" y="818" width="1446" height="1" fill="#f3f3f3"/>
<rect x="0" y="821" width="1299" height="20" fill="#ececec"/>
<rect x="0" y="821" width="1299" height="1" fill="#e3e3e3"/>
<rect x="0" y="822" width="17" height="19" fill="#f0f0f0"/>
<rect x="1281" y="822" width="18" height="19" fill="#f0f0f0"/>
<rect x="1299" y="820" width="197" height="21" fill="#f0f0f0"/>
<rect x="1445" y="22" width="1" height="759" fill="#000"/>
<rect x="1446" y="772" width="8" height="1" fill="#000"/>
<rect x="1446" y="764" width="3" height="1" fill="#000"/>
<rect x="1446" y="756" width="3" height="1" fill="#000"/>
<rect x="1446" y="748" width="3" height="1" fill="#000"/>
<rect x="1446" y="740" width="3" height="1" fill="#000"/>
<rect x="1446" y="732" width="8" height="1" fill="#000"/>
<rect x="1446" y="725" width="3" height="1" fill="#000"/>
<rect x="1446" y="717" width="3" height="1" fill="#000"/>
<rect x="1446" y="709" width="3" height="1" fill="#000"/>
<rect x="1446" y="702" width="3" height="1" fill="#000"/>
<rect x="1446" y="695" width="8" height="1" fill="#000"/>
<rect x="1446" y="687" width="3" height="1" fill="#000"/>
<rect x="1446" y="680" width="3" height="1" fill="#000"/>
<rect x="1446" y="673" width="3" height="1" fill="#000"/>
<rect x="1446" y="666" width="3" height="1" fill="#000"/>
<rect x="1446" y="658" width="8" height="1" fill="#000"/>
<rect x="1446" y="651" width="3" height="1" fill="#000"/>
<rect x="1446" y="644" width="3" height="1" fill="#000"/>
<rect x="1446" y="637" width="3" height="1" fill="#000"/>
<rect x="1446" y="631" width="3" height="1" fill="#000"/>
<rect x="1446" y="624" width="8" height="1" fill="#000"/>
<rect x="1446" y="617" width="3" height="1" fill="#000"/>
<rect x="1446" y="610" width="3" height="1" fill="#000"/>
<rect x="1446" y="604" width="3" height="1" fill="#000"/>
<rect x="1446" y="597" width="3" height="1" fill="#000"/>
<rect x="1446" y="590" width="8" height="1" fill="#000"/>
<rect x="1446" y="584" width="3" height="1" fill="#000"/>
<rect x="1446" y="577" width="3" height="1" fill="#000"/>
<rect x="1446" y="571" width="3" height="1" fill="#000"/>
<rect x="1446" y="565" width="3" height="1" fill="#000"/>
<rect x="1446" y="558" width="8" height="1" fill="#000"/>
<rect x="1446" y="552" width="3" height="1" fill="#000"/>
<rect x="1446" y="546" width="3" height="1" fill="#000"/>
<rect x="1446" y="540" width="3" height="1" fill="#000"/>
<rect x="1446" y="533" width="3" height="1" fill="#000"/>
<rect x="1446" y="527" width="8" height="1" fill="#000"/>
<rect x="1446" y="521" width="3" height="1" fill="#000"/>
<rect x="1446" y="515" width="3" height="1" fill="#000"/>
<rect x="1446" y="509" width="3" height="1" fill="#000"/>
<rect x="1446" y="503" width="3" height="1" fill="#000"/>
<rect x="1446" y="498" width="8" height="1" fill="#000"/>
<rect x="1446" y="492" width="3" height="1" fill="#000"/>
<rect x="1446" y="486" width="3" height="1" fill="#000"/>
<rect x="1446" y="480" width="3" height="1" fill="#000"/>
<rect x="1446" y="474" width="3" height="1" fill="#000"/>
<rect x="1446" y="469" width="8" height="1" fill="#000"/>
<rect x="1446" y="463" width="3" height="1" fill="#000"/>
<rect x="1446" y="457" width="3" height="1" fill="#000"/>
<rect x="1446" y="452" width="3" height="1" fill="#000"/>
<rect x="1446" y="446" width="3" height="1" fill="#000"/>
<rect x="1446" y="441" width="8" height="1" fill="#000"/>
<rect x="1446" y="435" width="3" height="1" fill="#000"/>
<rect x="1446" y="430" width="3" height="1" fill="#000"/>
<rect x="1446" y="425" width="3" height="1" fill="#000"/>
<rect x="1446" y="419" width="3" height="1" fill="#000"/>
<rect x="1446" y="414" width="8" height="1" fill="#000"/>
<rect x="1446" y="409" width="3" height="1" fill="#000"/>
<rect x="1446" y="403" width="3" height="1" fill="#000"/>
<rect x="1446" y="398" width="3" height="1" fill="#000"/>
<rect x="1446" y="393" width="3" height="1" fill="#000"/>
<rect x="1446" y="388" width="8" height="1" fill="#000"/>
<rect x="1446" y="383" width="3" height="1" fill="#000"/>
<rect x="1446" y="377" width="3" height="1" fill="#000"/>
<rect x="1446" y="372" width="3" height="1" fill="#000"/>
<rect x="1446" y="367" width="3" height="1" fill="#000"/>
<rect x="1446" y="362" width="8" height="1" fill="#000"/>
<rect x="1446" y="357" width="3" height="1" fill="#000"/>
<rect x="1446" y="352" width="3" height="1" fill="#000"/>
<rect x="1446" y="347" width="3" height="1" fill="#000"/>
<rect x="1446" y="343" width="3" height="1" fill="#000"/>
<rect x="1446" y="338" width="8" height="1" fill="#000"/>
<rect x="1446" y="333" width="3" height="1" fill="#000"/>
<rect x="1446" y="328" width="3" height="1" fill="#000"/>
<rect x="1446" y="323" width="3" height="1" fill="#000"/>
<rect x="1446" y="319" width="3" height="1" fill="#000"/>
<rect x="1446" y="314" width="8" height="1" fill="#000"/>
<rect x="1446" y="309" width="3" height="1" fill="#000"/>
<rect x="1446" y="304" width="3" height="1" fill="#000"/>
<rect x="1446" y="300" width="3" height="1" fill="#000"/>
<rect x="1446" y="295" width="3" height="1" fill="#000"/>
<rect x="1446" y="290" width="8" height="1" fill="#000"/>
<rect x="1446" y="286" width="3" height="1" fill="#000"/>
<rect x="1446" y="281" width="3" height="1" fill="#000"/>
<rect x="1446" y="277" width="3" height="1" fill="#000"/>
<rect x="1446" y="272" width="3" height="1" fill="#000"/>
<rect x="1446" y="268" width="8" height="1" fill="#000"/>
<rect x="1446" y="263" width="3" height="1" fill="#000"/>
<rect x="1446" y="259" width="3" height="1" fill="#000"/>
<rect x="1446" y="255" width="3" height="1" fill="#000"/>
<rect x="1446" y="250" width="3" height="1" fill="#000"/>
<rect x="1446" y="246" width="8" height="1" fill="#000"/>
<rect x="1446" y="241" width="3" height="1" fill="#000"/>
<rect x="1446" y="237" width="3" height="1" fill="#000"/>
<rect x="1446" y="233" width="3" height="1" fill="#000"/>
<rect x="1446" y="228" width="3" height="1" fill="#000"/>
<rect x="1446" y="224" width="8" height="1" fill="#000"/>
<rect x="1446" y="220" width="3" height="1" fill="#000"/>
<rect x="1446" y="216" width="3" height="1" fill="#000"/>
<rect x="1446" y="212" width="3" height="1" fill="#000"/>
<rect x="1446" y="207" width="3" height="1" fill="#000"/>
<rect x="1446" y="203" width="8" height="1" fill="#000"/>
<rect x="1446" y="199" width="3" height="1" fill="#000"/>
<rect x="1446" y="195" width="3" height="1" fill="#000"/>
<rect x="1446" y="191" width="3" height="1" fill="#000"/>
<rect x="1446" y="187" width="3" height="1" fill="#000"/>
<rect x="1446" y="183" width="8" height="1" fill="#000"/>
<rect x="1446" y="179" width="3" height="1" fill="#000"/>
<rect x="1446" y="175" width="3" height="1" fill="#000"/>
<rect x="1446" y="171" width="3" height="1" fill="#000"/>
<rect x="1446" y="167" width="3" height="1" fill="#000"/>
<rect x="1446" y="163" width="8" height="1" fill="#000"/>
<rect x="1446" y="159" width="3" height="1" fill="#000"/>
<rect x="1446" y="155" width="3" height="1" fill="#000"/>
<rect x="1446" y="151" width="3" height="1" fill="#000"/>
<rect x="1446" y="147" width="3" height="1" fill="#000"/>
<rect x="1446" y="143" width="8" height="1" fill="#000"/>
<rect x="1446" y="139" width="3" height="1" fill="#000"/>
<rect x="1446" y="136" width="3" height="1" fill="#000"/>
<rect x="1446" y="132" width="3" height="1" fill="#000"/>
<rect x="1446" y="128" width="3" height="1" fill="#000"/>
<rect x="1446" y="124" width="8" height="1" fill="#000"/>
<rect x="1446" y="120" width="3" height="1" fill="#000"/>
<rect x="1446" y="117" width="3" height="1" fill="#000"/>
<rect x="1446" y="113" width="3" height="1" fill="#000"/>
<rect x="1446" y="109" width="3" height="1" fill="#000"/>
<rect x="1446" y="105" width="8" height="1" fill="#000"/>
<rect x="1446" y="102" width="3" height="1" fill="#000"/>
<rect x="1446" y="98" width="3" height="1" fill="#000"/>
<rect x="1446" y="94" width="3" height="1" fill="#000"/>
<rect x="1446" y="91" width="3" height="1" fill="#000"/>
<rect x="1446" y="87" width="8" height="1" fill="#000"/>
<rect x="1446" y="84" width="3" height="1" fill="#000"/>
<rect x="1446" y="80" width="3" height="1" fill="#000"/>
<rect x="1446" y="76" width="3" height="1" fill="#000"/>
<rect x="1446" y="73" width="3" height="1" fill="#000"/>
<rect x="1446" y="69" width="8" height="1" fill="#000"/>
<rect x="1446" y="66" width="3" height="1" fill="#000"/>
<rect x="1446" y="62" width="3" height="1" fill="#000"/>
<rect x="1446" y="59" width="3" height="1" fill="#000"/>
<rect x="1446" y="55" width="3" height="1" fill="#000"/>
<rect x="1446" y="52" width="8" height="1" fill="#000"/>
<rect x="1446" y="48" width="3" height="1" fill="#000"/>
<rect x="1446" y="45" width="3" height="1" fill="#000"/>
<rect x="1446" y="41" width="3" height="1" fill="#000"/>
<rect x="1446" y="38" width="3" height="1" fill="#000"/>
<rect x="1446" y="35" width="8" height="1" fill="#000"/>
<rect x="1446" y="31" width="3" height="1" fill="#000"/>
<rect x="1446" y="28" width="3" height="1" fill="#000"/>
<rect x="1446" y="24" width="3" height="1" fill="#000"/>
</g>
<text transform="translate(1459.2,779) rotate(0.03) scale(0.9481,1.0000)" font-size="15.40" fill="#000">1050</text>
<text transform="translate(1459.2,739) rotate(0.03) scale(0.9481,1.0000)" font-size="15.40" fill="#000">1100</text>
<text transform="translate(1459.2,702) rotate(0.03) scale(0.9481,1.0000)" font-size="15.40" fill="#000">1150</text>
<text transform="translate(1459.2,665) rotate(0.03) scale(0.9481,1.0000)" font-size="15.40" fill="#000">1200</text>
<text transform="translate(1459.2,631) rotate(0.03) scale(0.9481,1.0000)" font-size="15.40" fill="#000">1250</text>
<text transform="translate(1459.2,597) rotate(0.03) scale(0.9481,1.0000)" font-size="15.40" fill="#000">1300</text>
<text transform="translate(1459.2,565) rotate(0.03) scale(0.9481,1.0000)" font-size="15.40" fill="#000">1350</text>
<text transform="translate(1459.2,534) rotate(0.03) scale(0.9481,1.0000)" font-size="15.40" fill="#000">1400</text>
<text transform="translate(1459.2,505) rotate(0.03) scale(0.9481,1.0000)" font-size="15.40" fill="#000">1450</text>
<text transform="translate(1459.2,476) rotate(0.03) scale(0.9481,1.0000)" font-size="15.40" fill="#000">1500</text>
<text transform="translate(1459.2,448) rotate(0.03) scale(0.9481,1.0000)" font-size="15.40" fill="#000">1550</text>
<text transform="translate(1459.2,421) rotate(0.03) scale(0.9481,1.0000)" font-size="15.40" fill="#000">1600</text>
<text transform="translate(1459.2,395) rotate(0.03) scale(0.9481,1.0000)" font-size="15.40" fill="#000">1650</text>
<text transform="translate(1459.2,369) rotate(0.03) scale(0.9481,1.0000)" font-size="15.40" fill="#000">1700</text>
<text transform="translate(1459.2,345) rotate(0.03) scale(0.9481,1.0000)" font-size="15.40" fill="#000">1750</text>
<text transform="translate(1459.2,321) rotate(0.03) scale(0.9481,1.0000)" font-size="15.40" fill="#000">1800</text>
<text transform="translate(1459.2,297) rotate(0.03) scale(0.9481,1.0000)" font-size="15.40" fill="#000">1850</text>
<text transform="translate(1459.2,275) rotate(0.03) scale(0.9481,1.0000)" font-size="15.40" fill="#000">1900</text>
<text transform="translate(1459.2,231) rotate(0.03) scale(0.9481,1.0000)" font-size="15.40" fill="#000">2000</text>
<text transform="translate(1459.2,210) rotate(0.03) scale(0.9481,1.0000)" font-size="15.40" fill="#000">2050</text>
<text transform="translate(1459.2,190) rotate(0.03) scale(0.9481,1.0000)" font-size="15.40" fill="#000">2100</text>
<text transform="translate(1459.2,170) rotate(0.03) scale(0.9481,1.0000)" font-size="15.40" fill="#000">2150</text>
<text transform="translate(1459.2,150) rotate(0.03) scale(0.9481,1.0000)" font-size="15.40" fill="#000">2200</text>
<text transform="translate(1459.2,131) rotate(0.03) scale(0.9481,1.0000)" font-size="15.40" fill="#000">2250</text>
<text transform="translate(1459.2,112) rotate(0.03) scale(0.9481,1.0000)" font-size="15.40" fill="#000">2300</text>
<text transform="translate(1459.2,94) rotate(0.03) scale(0.9481,1.0000)" font-size="15.40" fill="#000">2350</text>
<text transform="translate(1459.2,76) rotate(0.03) scale(0.9481,1.0000)" font-size="15.40" fill="#000">2400</text>
<text transform="translate(1459.2,59) rotate(0.03) scale(0.9481,1.0000)" font-size="15.40" fill="#000">2450</text>
<text transform="translate(1459.2,42) rotate(0.03) scale(0.9481,1.0000)" font-size="15.40" fill="#000">2500</text>
<rect x="1450" y="235" width="46" height="18" fill="#000" shape-rendering="crispEdges"/>
<text transform="translate(1451.0,249) rotate(0.03) scale(0.9481,1.0000)" font-size="15.40" fill="#ffff00">1949.20</text>
<g shape-rendering="crispEdges" fill="#000">
<rect x="0" y="780" width="1446" height="1"/>
<rect x="0" y="799" width="1446" height="1"/>
<rect x="19" y="781" width="1" height="18"/>
<rect x="63" y="781" width="1" height="18"/>
<rect x="107" y="781" width="1" height="18"/>
<rect x="151" y="781" width="1" height="18"/>
<rect x="195" y="781" width="1" height="18"/>
<rect x="238" y="781" width="1" height="18"/>
<rect x="282" y="781" width="1" height="18"/>
<rect x="326" y="781" width="1" height="18"/>
<rect x="370" y="781" width="1" height="18"/>
<rect x="414" y="781" width="1" height="18"/>
<rect x="458" y="781" width="1" height="18"/>
<rect x="501" y="781" width="1" height="18"/>
<rect x="545" y="781" width="1" height="18"/>
<rect x="589" y="781" width="1" height="18"/>
<rect x="633" y="781" width="1" height="18"/>
<rect x="677" y="781" width="1" height="18"/>
<rect x="721" y="781" width="1" height="18"/>
<rect x="765" y="781" width="1" height="18"/>
<rect x="808" y="781" width="1" height="18"/>
<rect x="852" y="781" width="1" height="18"/>
<rect x="896" y="781" width="1" height="18"/>
<rect x="940" y="781" width="1" height="18"/>
<rect x="984" y="781" width="1" height="18"/>
<rect x="1028" y="781" width="1" height="18"/>
<rect x="1071" y="781" width="1" height="18"/>
<rect x="1115" y="781" width="1" height="18"/>
<rect x="1159" y="781" width="1" height="18"/>
<rect x="1203" y="781" width="1" height="18"/>
<rect x="1247" y="781" width="1" height="18"/>
<rect x="1291" y="781" width="1" height="18"/>
<rect x="1335" y="781" width="1" height="18"/>
<rect x="1378" y="781" width="1" height="18"/>
<rect x="1422" y="781" width="1" height="18"/>
<rect x="19" y="800" width="1" height="18"/>
<rect x="195" y="800" width="1" height="18"/>
<rect x="370" y="817" width="1" height="1"/>
<rect x="589" y="800" width="1" height="18"/>
<rect x="765" y="800" width="1" height="18"/>
<rect x="940" y="800" width="1" height="18"/>
<rect x="1159" y="817" width="1" height="1"/>
<rect x="1335" y="800" width="1" height="18"/>
</g>
<text transform="translate(21.2,795) rotate(0.03) scale(0.9481,1.0000)" font-size="15.40" fill="#000">5</text>
<text transform="translate(65.2,795) rotate(0.03) scale(0.9481,1.0000)" font-size="15.40" fill="#000">12</text>
<text transform="translate(109.2,795) rotate(0.03) scale(0.9481,1.0000)" font-size="15.40" fill="#000">19</text>
<text transform="translate(153.2,795) rotate(0.03) scale(0.9481,1.0000)" font-size="15.40" fill="#000">26</text>
<text transform="translate(197.2,795) rotate(0.03) scale(0.9481,1.0000)" font-size="15.40" fill="#000">5</text>
<text transform="translate(240.2,795) rotate(0.03) scale(0.9481,1.0000)" font-size="15.40" fill="#000">12</text>
<text transform="translate(284.2,795) rotate(0.03) scale(0.9481,1.0000)" font-size="15.40" fill="#000">19</text>
<text transform="translate(328.2,795) rotate(0.03) scale(0.9481,1.0000)" font-size="15.40" fill="#000">26</text>
<text transform="translate(372.2,795) rotate(0.03) scale(0.9481,1.0000)" font-size="15.40" fill="#000">1</text>
<text transform="translate(416.2,795) rotate(0.03) scale(0.9481,1.0000)" font-size="15.40" fill="#000">9</text>
<text transform="translate(460.2,795) rotate(0.03) scale(0.9481,1.0000)" font-size="15.40" fill="#000">16</text>
<text transform="translate(503.2,795) rotate(0.03) scale(0.9481,1.0000)" font-size="15.40" fill="#000">23</text>
<text transform="translate(547.2,795) rotate(0.03) scale(0.9481,1.0000)" font-size="15.40" fill="#000">30</text>
<text transform="translate(591.2,795) rotate(0.03) scale(0.9481,1.0000)" font-size="15.40" fill="#000">7</text>
<text transform="translate(635.2,795) rotate(0.03) scale(0.9481,1.0000)" font-size="15.40" fill="#000">14</text>
<text transform="translate(679.2,795) rotate(0.03) scale(0.9481,1.0000)" font-size="15.40" fill="#000">20</text>
<text transform="translate(723.2,795) rotate(0.03) scale(0.9481,1.0000)" font-size="15.40" fill="#000">28</text>
<text transform="translate(767.2,795) rotate(0.03) scale(0.9481,1.0000)" font-size="15.40" fill="#000">4</text>
<text transform="translate(810.2,795) rotate(0.03) scale(0.9481,1.0000)" font-size="15.40" fill="#000">11</text>
<text transform="translate(854.2,795) rotate(0.03) scale(0.9481,1.0000)" font-size="15.40" fill="#000">18</text>
<text transform="translate(898.2,795) rotate(0.03) scale(0.9481,1.0000)" font-size="15.40" fill="#000">25</text>
<text transform="translate(942.2,795) rotate(0.03) scale(0.9481,1.0000)" font-size="15.40" fill="#000">2</text>
<text transform="translate(986.2,795) rotate(0.03) scale(0.9481,1.0000)" font-size="15.40" fill="#000">9</text>
<text transform="translate(1030.2,795) rotate(0.03) scale(0.9481,1.0000)" font-size="15.40" fill="#000">15</text>
<text transform="translate(1073.2,795) rotate(0.03) scale(0.9481,1.0000)" font-size="15.40" fill="#000">23</text>
<text transform="translate(1117.2,795) rotate(0.03) scale(0.9481,1.0000)" font-size="15.40" fill="#000">30</text>
<text transform="translate(1161.2,795) rotate(0.03) scale(0.9481,1.0000)" font-size="15.40" fill="#000">6</text>
<text transform="translate(1205.2,795) rotate(0.03) scale(0.9481,1.0000)" font-size="15.40" fill="#000">13</text>
<text transform="translate(1249.2,795) rotate(0.03) scale(0.9481,1.0000)" font-size="15.40" fill="#000">20</text>
<text transform="translate(1293.2,795) rotate(0.03) scale(0.9481,1.0000)" font-size="15.40" fill="#000">27</text>
<text transform="translate(1337.2,795) rotate(0.03) scale(0.9481,1.0000)" font-size="15.40" fill="#000">3</text>
<text transform="translate(1380.2,795) rotate(0.03) scale(0.9481,1.0000)" font-size="15.40" fill="#000">10</text>
<text transform="translate(1424.2,795) rotate(0.03) scale(0.9481,1.0000)" font-size="15.40" fill="#000">17</text>
<text transform="translate(21.2,814) rotate(0.03) scale(0.9481,1.0000)" font-size="15.40" fill="#000">February</text>
<text transform="translate(197.2,814) rotate(0.03) scale(0.9481,1.0000)" font-size="15.40" fill="#000">March</text>
<text transform="translate(372.2,814) rotate(0.03) scale(0.9481,1.0000)" font-size="15.40" fill="#000">April</text>
<text transform="translate(591.2,814) rotate(0.03) scale(0.9481,1.0000)" font-size="15.40" fill="#000">May</text>
<text transform="translate(767.2,814) rotate(0.03) scale(0.9481,1.0000)" font-size="15.40" fill="#000">June</text>
<text transform="translate(942.2,814) rotate(0.03) scale(0.9481,1.0000)" font-size="15.40" fill="#000">July</text>
<text transform="translate(1161.2,814) rotate(0.03) scale(0.9481,1.0000)" font-size="15.40" fill="#000">August</text>
<text transform="translate(1337.2,814) rotate(0.03) scale(0.9481,1.0000)" font-size="15.40" fill="#000">September</text>
<defs><linearGradient id="tg" x1="0" y1="0" x2="0" y2="1"><stop offset="0" stop-color="#f5f5f5"/><stop offset="0.38" stop-color="#e8e8e8"/><stop offset="0.40" stop-color="#d6d6d8"/><stop offset="0.9" stop-color="#c3c3c7"/><stop offset="1" stop-color="#cdcdd0"/></linearGradient></defs>
<rect x="1073.5" y="821.5" width="176" height="18" rx="2" ry="2" fill="url(#tg)" stroke="#959595" stroke-width="1"/>
<path d="M1074.5 837.5 V823 Q1074.5 822.5 1075 822.5 H1248" fill="none" stroke="#fcfcfc" stroke-width="1" opacity="0.6"/>
<g shape-rendering="crispEdges" fill="#5a5a5a">
<rect x="1156" y="826" width="1" height="9"/><rect x="1160" y="826" width="1" height="9"/><rect x="1164" y="826" width="1" height="9"/>
<rect x="1157" y="826" width="1" height="9" fill="#f2f2f2"/><rect x="1161" y="826" width="1" height="9" fill="#f2f2f2"/><rect x="1165" y="826" width="1" height="9" fill="#f2f2f2"/>
</g>
<defs><linearGradient id="ag" x1="0" y1="0" x2="1" y2="0"><stop offset="0" stop-color="#262626"/><stop offset="1" stop-color="#909090"/></linearGradient><linearGradient id="ag2" x1="1" y1="0" x2="0" y2="0"><stop offset="0" stop-color="#3c3c3c"/><stop offset="1" stop-color="#7a7a7a"/></linearGradient></defs>
<path d="M2.8 830.4 L8.1 825.6 L8.1 835.2 Z" fill="url(#ag)"/>
<path d="M1291.6 830.4 L1286 825.8 L1286 835 Z" fill="url(#ag)"/>
<g shape-rendering="crispEdges" fill="#6e6e6e">
<rect x="1301" y="822" width="1" height="17"/>
<rect x="1349" y="822" width="1" height="17"/>
<rect x="1439" y="822" width="1" height="17"/>
</g>
<path d="M1315 825h1v1h-1zM1313 826h4v1h-4zM1312 827h1v1h-1zM1315 827h2v1h-2zM1312 828h1v1h-1zM1315 828h1v1h-1zM1312 829h1v1h-1zM1316 830h1v1h-1zM1313 831h1v1h-1zM1316 831h1v1h-1zM1312 832h2v1h-2zM1316 832h1v1h-1zM1312 833h4v1h-4zM1313 834h1v1h-1z" fill="#000" shape-rendering="crispEdges"/>
<path d="M1332 826h1v1h-1zM1332 827h1v1h-1zM1332 828h1v1h-1zM1332 829h1v1h-1zM1332 830h1v1h-1zM1332 831h1v1h-1zM1338 826h1v1h-1zM1338 827h1v1h-1zM1338 828h1v1h-1zM1338 829h1v1h-1zM1338 830h1v1h-1zM1338 831h1v1h-1zM1333 832h1v1h-1zM1333 833h1v1h-1zM1334 831h1v1h-1zM1335 829h1v1h-1zM1335 830h1v1h-1zM1336 831h1v1h-1zM1337 832h1v1h-1zM1337 833h1v1h-1z" fill="#000" shape-rendering="crispEdges"/>
<path d="M1362 825h2v1h-2zM1362 834h2v1h-2z" fill="#787878" shape-rendering="crispEdges"/>
<path d="M1362 826h2v1h-2zM1361 827h4v1h-4zM1360 828h6v1h-6zM1362 829h2v1h-2zM1362 830h2v1h-2zM1360 831h6v1h-6zM1361 832h4v1h-4zM1362 833h2v1h-2z" fill="#000" shape-rendering="crispEdges"/>
<path d="M1384 826h1v1h-1zM1383 827h3v1h-3zM1384 828h1v1h-1zM1384 829h1v1h-1zM1380 830h9v1h-9zM1384 831h1v1h-1zM1384 832h1v1h-1zM1383 833h3v1h-3zM1384 834h1v1h-1zM1381 829h1v1h-1zM1381 831h1v1h-1zM1387 829h1v1h-1zM1387 831h1v1h-1z" fill="#000" shape-rendering="crispEdges"/>
<path d="M1403 826h5v1h-5zM1402 827h1v1h-1zM1408 827h1v1h-1zM1401 828h1v1h-1zM1401 829h1v1h-1zM1401 830h1v1h-1zM1401 831h1v1h-1zM1409 828h1v1h-1zM1409 829h1v1h-1zM1409 830h1v1h-1zM1409 831h1v1h-1zM1402 832h1v1h-1zM1408 832h1v1h-1zM1403 833h5v1h-5z" fill="#000" shape-rendering="crispEdges"/>
<path d="M1404 825h3v1h-3zM1404 834h3v1h-3z" fill="#c4c4c4" shape-rendering="crispEdges"/>
<path d="M1402 826h1v1h-1zM1408 826h1v1h-1zM1401 827h1v1h-1zM1409 827h1v1h-1zM1401 832h1v1h-1zM1409 832h1v1h-1zM1402 833h1v1h-1zM1408 833h1v1h-1z" fill="#b0b0b0" shape-rendering="crispEdges"/>
<path d="M1404 829h3v1h-3z" fill="#000" shape-rendering="crispEdges"/>
<path d="M1403 829h1v1h-1zM1407 829h1v1h-1z" fill="#808080" shape-rendering="crispEdges"/>
<path d="M1403 830h5v1h-5z" fill="#d4d4d4" shape-rendering="crispEdges"/>
<path d="M1424 826h5v1h-5zM1423 827h1v1h-1zM1429 827h1v1h-1zM1422 828h1v1h-1zM1422 829h1v1h-1zM1422 830h1v1h-1zM1422 831h1v1h-1zM1430 828h1v1h-1zM1430 829h1v1h-1zM1430 830h1v1h-1zM1430 831h1v1h-1zM1423 832h1v1h-1zM1429 832h1v1h-1zM1424 833h5v1h-5z" fill="#000" shape-rendering="crispEdges"/>
<path d="M1425 825h3v1h-3zM1425 834h3v1h-3z" fill="#c4c4c4" shape-rendering="crispEdges"/>
<path d="M1423 826h1v1h-1zM1429 826h1v1h-1zM1422 827h1v1h-1zM1430 827h1v1h-1zM1422 832h1v1h-1zM1430 832h1v1h-1zM1423 833h1v1h-1zM1429 833h1v1h-1z" fill="#b0b0b0" shape-rendering="crispEdges"/>
<path d="M1425 829h3v1h-3zM1426 828h1v1h-1zM1426 830h1v1h-1zM1426 831h1v1h-1z" fill="#000" shape-rendering="crispEdges"/>
<path d="M1424 829h1v1h-1zM1428 829h1v1h-1z" fill="#808080" shape-rendering="crispEdges"/>
<path d="M1454 826h1v1h-1zM1453 827h2v1h-2zM1452 828h3v1h-3zM1451 829h4v1h-4zM1450 830h5v1h-5zM1451 831h4v1h-4zM1452 832h3v1h-3zM1453 833h2v1h-2zM1454 834h1v1h-1z" fill="#000" shape-rendering="crispEdges"/>
<path d="M1472 826h1v1h-1zM1472 827h2v1h-2zM1472 828h3v1h-3zM1472 829h4v1h-4zM1472 830h5v1h-5zM1472 831h4v1h-4zM1472 832h3v1h-3zM1472 833h2v1h-2zM1472 834h1v1h-1z" fill="#000" shape-rendering="crispEdges"/>
<path d="M1492 826h4v1h-4zM1492 827h4v1h-4zM1492 828h4v1h-4zM1492 829h4v1h-4zM1492 830h4v1h-4zM1492 831h4v1h-4zM1492 832h4v1h-4z" fill="#ffffff" shape-rendering="crispEdges"/>
<path d="M1491 825h5v1h-5zM1491 827h5v1h-5zM1491 833h5v1h-5zM1491 825h1v1h-1zM1491 826h1v1h-1zM1491 827h1v1h-1zM1491 828h1v1h-1zM1491 829h1v1h-1zM1491 830h1v1h-1zM1491 831h1v1h-1zM1491 832h1v1h-1zM1491 833h1v1h-1z" fill="#000" shape-rendering="crispEdges"/>
<path d="M1493 829h3v1h-3zM1493 831h3v1h-3z" fill="#8c8c8c" shape-rendering="crispEdges"/>
</svg>
</body></html>
